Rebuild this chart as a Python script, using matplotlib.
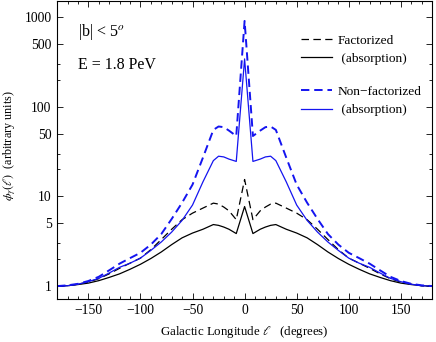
import matplotlib
matplotlib.use("Agg")
import matplotlib.pyplot as plt
from matplotlib.ticker import FixedLocator, FixedFormatter, MultipleLocator, NullFormatter

plt.rcParams["font.family"] = ["Liberation Serif", "DejaVu Serif"]
plt.rcParams["mathtext.fontset"] = "stix"

# galactic longitude (degrees)
longitude = [-180, -170, -160, -150, -140, -130, -120, -110, -100, -90, -80, -70,
             -60, -50, -40, -30, -25, -20, -15, -8, 0,
             8, 15, 20, 25, 30, 40, 50, 60,
             70, 80, 90, 100, 110, 120, 130, 140, 150, 160, 170, 180]

fact = [1.0, 1.01, 1.05, 1.11, 1.21, 1.37, 1.58, 1.8, 2.05, 2.55, 3.3, 4.3,
        5.5, 6.5, 7.4, 8.4, 8.2, 7.6, 6.9, 5.5, 15.4,
        5.5, 6.9, 7.6, 8.2, 8.4, 7.4, 6.5, 5.5,
        4.3, 3.3, 2.55, 2.05, 1.8, 1.58, 1.37, 1.21, 1.11, 1.05, 1.01, 1.0]

fact_abs = [1.0, 1.01, 1.04, 1.08, 1.15, 1.25, 1.37, 1.54, 1.75, 2.03, 2.4, 2.9,
            3.45, 3.9, 4.3, 4.85, 4.75, 4.55, 4.3, 3.85, 7.7,
            3.85, 4.3, 4.55, 4.75, 4.85, 4.3, 3.9, 3.45,
            2.9, 2.4, 2.03, 1.75, 1.54, 1.37, 1.25, 1.15, 1.08, 1.04, 1.01, 1.0]

nonfact = [1.0, 1.02, 1.06, 1.14, 1.27, 1.5, 1.78, 2.05, 2.35, 2.9, 3.8, 5.6,
           8.5, 13.5, 27, 55, 60, 59, 54, 47, 900,
           47, 54, 59, 60, 55, 27, 13.5, 8.5,
           5.6, 3.8, 2.9, 2.35, 2.05, 1.78, 1.5, 1.27, 1.14, 1.06, 1.02, 1.0]

nonfact_abs = [1.0, 1.01, 1.05, 1.12, 1.22, 1.4, 1.62, 1.8, 2.05, 2.5, 3.1, 4.0,
               5.4, 8.0, 14.5, 25, 28, 27.5, 26, 24.5, 340,
               24.5, 26, 27.5, 28, 25, 14.5, 8.0, 5.4,
               4.0, 3.1, 2.5, 2.05, 1.8, 1.62, 1.4, 1.22, 1.12, 1.05, 1.01, 1.0]

x_ticks = [-150, -100, -50, 0, 50, 100, 150]
x_labels = ["\u2212150", "\u2212100", "\u221250", "0", "50", "100", "150"]
y_major = [1, 5, 10, 50, 100, 500, 1000]
y_minor = [2, 3, 20, 30, 200, 300]

fig = plt.figure(figsize=(4.36, 3.42), dpi=100)
ax = fig.add_axes([0.131, 0.126, 0.86, 0.871])

l1, = ax.plot(longitude, fact, color="black", lw=0.9, ls=(0, (6, 3.5)))
l2, = ax.plot(longitude, fact_abs, color="black", lw=0.9)
l3, = ax.plot(longitude, nonfact, color="#1414f0", lw=1.4, ls=(0, (4.3, 2.5)))
l4, = ax.plot(longitude, nonfact_abs, color="#1414f0", lw=0.9)

ax.set_yscale("log")
ax.set_xlim(-180, 180)
ax.set_ylim(0.72, 1500)

ax.set_xticks(x_ticks, x_labels)
ax.xaxis.set_minor_locator(MultipleLocator(10))
ax.yaxis.set_major_locator(FixedLocator(y_major))
ax.yaxis.set_major_formatter(FixedFormatter([str(v) for v in y_major]))
ax.yaxis.set_minor_locator(FixedLocator(y_minor))
ax.yaxis.set_minor_formatter(NullFormatter())

ax.tick_params(which="both", direction="in", top=True, right=True, labelsize=9.8, width=0.6)
ax.tick_params(which="major", length=4.5, pad=4)
ax.tick_params(which="minor", length=2.5)
for s in ax.spines.values():
    s.set_linewidth(0.8)

ax.set_xlabel(r"Galactic Longitude $\ell$   (degrees)", fontsize=9.3, labelpad=5)
ax.set_ylabel(r"$\phi_\gamma(\ell)$  (arbitrary units)", fontsize=8.7)
ax.yaxis.set_label_coords(-0.104, 0.515)

ax.text(0.055, 0.896, r"|b| < 5$^o$", transform=ax.transAxes, fontsize=11.5, va="center")
ax.text(0.055, 0.785, "E = 1.8 PeV", transform=ax.transAxes, fontsize=11.5, va="center")

leg_kw = dict(loc="center left", frameon=False, fontsize=9.6, borderpad=0,
              borderaxespad=0, handlelength=2.3, handletextpad=0.45, labelspacing=0.45)
leg1 = ax.legend([l1, l2], ["Factorized", " (absorption)"],
                 bbox_to_anchor=(0.651, 0.837), **leg_kw)
ax.add_artist(leg1)
ax.legend([l3, l4], ["Non\u2212factorized", " (absorption)"],
          bbox_to_anchor=(0.651, 0.664), **leg_kw)

fig.savefig("out.png", dpi=100)
